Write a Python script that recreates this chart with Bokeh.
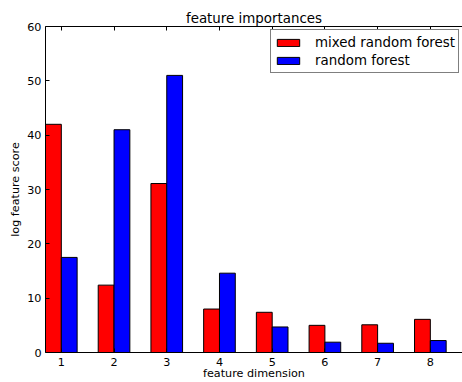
from bokeh.plotting import figure
from bokeh.models import LinearAxis, FixedTicker, Legend, LegendItem, Range1d
from bokeh.embed import file_html
from bokeh.resources import INLINE

# feature dimensions and their log importance scores
dimensions = [1, 2, 3, 4, 5, 6, 7, 8]
mixed_rf = [42.0, 12.4, 31.1, 8.0, 7.4, 5.0, 5.1, 6.1]
plain_rf = [17.5, 41.0, 51.0, 14.6, 4.7, 1.9, 1.7, 2.2]
y_ticks = [0, 10, 20, 30, 40, 50, 60]

BAR_W = 0.3
FONT = "DejaVu Sans"

p = figure(
    width=462, height=382,
    output_backend="svg", toolbar_location=None,
    x_range=Range1d(0.7, 8.61), y_range=Range1d(0, 60),
    x_axis_location=None, y_axis_location=None,
    min_border_left=45, min_border_right=0,
    min_border_top=26, min_border_bottom=29,
    title="feature importances",
)
p.outline_line_color = None
p.background_fill_color = "white"
p.border_fill_color = "white"
p.grid.visible = False

p.title.align = "center"
p.title.text_font = FONT
p.title.text_font_size = "13.4px"
p.title.text_font_style = "normal"
p.title.text_color = "black"
p.title.standoff = 1

red_x = [d - BAR_W / 2 for d in dimensions]
blue_x = [d + BAR_W / 2 for d in dimensions]
r_mixed = p.vbar(x=red_x, top=mixed_rf, bottom=0, width=BAR_W,
                 fill_color="#ff0000", line_color="black", line_width=1)
r_plain = p.vbar(x=blue_x, top=plain_rf, bottom=0, width=BAR_W,
                 fill_color="#0000ff", line_color="black", line_width=1)


def style_axis(ax):
    ax.axis_line_color = "black"
    ax.axis_line_width = 1
    ax.major_tick_line_color = "black"
    ax.major_tick_in = 4
    ax.major_tick_out = 0
    ax.minor_tick_line_color = None
    ax.major_label_text_font = FONT
    ax.major_label_text_font_size = "11.2px"
    ax.major_label_text_color = "black"
    ax.axis_label_text_font = FONT
    ax.axis_label_text_font_size = "11.2px"
    ax.axis_label_text_font_style = "normal"
    ax.axis_label_text_color = "black"


x_ticker = FixedTicker(ticks=dimensions)

bottom_axis = LinearAxis(ticker=x_ticker, axis_label="feature dimension")
style_axis(bottom_axis)
bottom_axis.major_label_standoff = 5
bottom_axis.axis_label_standoff = -2
p.add_layout(bottom_axis, "below")

left_axis = LinearAxis(ticker=FixedTicker(ticks=y_ticks), axis_label="log feature score")
style_axis(left_axis)
left_axis.major_label_standoff = 4
left_axis.axis_label_standoff = 2
p.add_layout(left_axis, "left")

# top spine with inward ticks and no tick labels
top_axis = LinearAxis(ticker=x_ticker,
                      major_label_overrides={d: "" for d in dimensions})
style_axis(top_axis)
top_axis.major_label_standoff = 0
p.add_layout(top_axis, "above")

legend = Legend(
    items=[
        LegendItem(label="mixed random forest", renderers=[r_mixed]),
        LegendItem(label="random forest", renderers=[r_plain]),
    ],
    location=(225, 279),
    orientation="vertical",
    padding=3, spacing=0, margin=0,
    glyph_width=28, glyph_height=9,
    label_height=18, label_standoff=13,
    label_text_font=FONT, label_text_font_size="13.4px",
    label_text_color="black",
    border_line_color="black", border_line_width=1,
    background_fill_color="white", background_fill_alpha=1.0,
)
p.add_layout(legend, "center")

open("out.html", "w").write(file_html(p, INLINE))
